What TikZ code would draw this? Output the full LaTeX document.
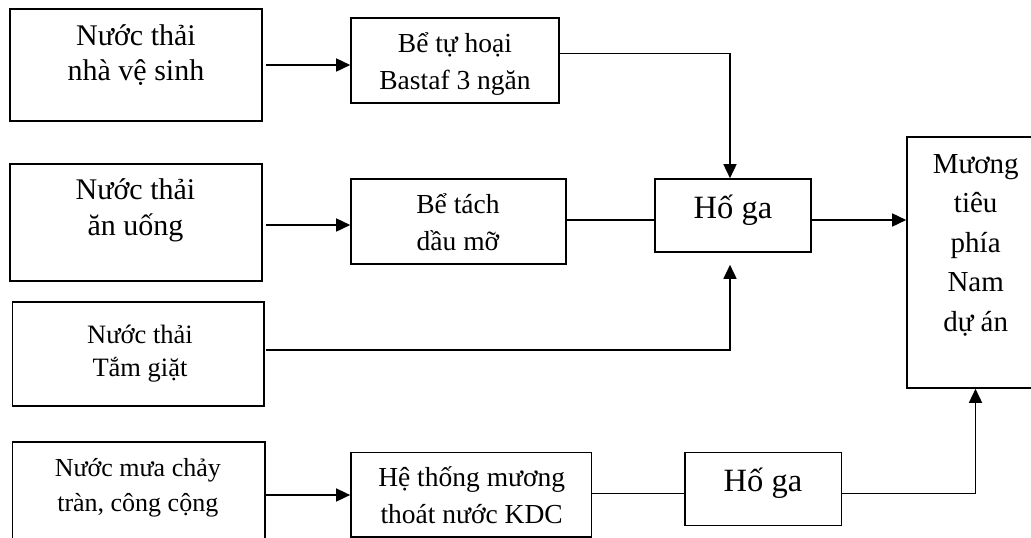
\documentclass[tikz,border=0pt]{standalone}
\usepackage{fontspec}
\setmainfont{Liberation Serif}
\usetikzlibrary{arrows.meta}
\begin{document}
\begin{tikzpicture}[x=1pt,y=-1pt,
  box/.style={draw, line width=1.6pt, rectangle, inner sep=0pt},
  txt/.style={align=center, inner sep=0pt, anchor=base},
  conn/.style={line width=1.6pt},
  arr/.style={conn, -{Triangle[length=14pt,width=13pt]}}]
\useasboundingbox (0,0) rectangle (1031,538);
% boxes
\node[box, minimum width=252pt, minimum height=112pt] (b1) at (136,65) {};
\node[box, minimum width=208pt, minimum height=85pt] (b2) at (455,60.5) {};
\node[box, minimum width=252pt, minimum height=117pt] (b3) at (136,222.5) {};
\node[box, minimum width=215pt, minimum height=85pt] (b4) at (458.5,221.5) {};
\node[box, minimum width=156pt, minimum height=73pt] (h1) at (733,215.5) {};
\node[box, minimum width=137pt, minimum height=251pt] (m) at (975.5,262.5) {};
\node[box, minimum width=251.4pt, minimum height=104pt] (b5) at (138.3,354) {};
\node[box, minimum width=252.3pt, minimum height=118pt] (b6) at (138.8,501) {};
\node[box, minimum width=240.5pt, minimum height=84.4pt] (b7) at (471.2,494.5) {};
\node[box, minimum width=156.3pt, minimum height=73pt] (h2) at (763.2,489) {};
% texts (anchored at the baseline of the last line)
\node[txt, font=\fontsize{30}{35}\selectfont] (t1) at (136,80) {Nước thải\\nhà vệ sinh};
\node[txt, font=\fontsize{27.5}{37}\selectfont] (t2) at (455,89.3) {Bể tự hoại\\Bastaf 3 ngăn};
\node[txt, font=\fontsize{30}{36}\selectfont] (t3) at (135.5,235) {Nước thải\\ăn uống};
\node[txt, font=\fontsize{27.5}{37}\selectfont] (t4) at (458,250) {Bể tách\\dầu mỡ};
\node[txt, font=\fontsize{32.5}{38}\selectfont] (th1) at (733,218) {Hố ga};
\node[txt, font=\fontsize{29}{39.5}\selectfont] (tm) at (975.7,331) {Mương\\tiêu\\phía\\Nam\\dự án};
\node[txt, font=\fontsize{26.5}{33.4}\selectfont] (t5) at (140,376.7) {Nước thải\\Tắm giặt};
\node[txt, font=\fontsize{26}{35}\selectfont] (t6) at (137.8,511.7) {Nước mưa chảy\\tràn, công cộng};
\node[txt, font=\fontsize{27.5}{36.6}\selectfont] (t7) at (471.7,523.3) {Hệ thống mương\\thoát nước KDC};
\node[txt, font=\fontsize{32.5}{38}\selectfont] (th2) at (763,491.7) {Hố ga};
% connectors
\draw[arr] ([xshift=3pt]b1.east) -- (b2.west |- b1.east);
\draw[arr] ([yshift=7.2pt]b2.east) -| ([xshift=-3pt]h1.north);
\draw[arr] ([shift={(3,2.5)}]b3.east) -- ([yshift=-3.5pt]b4.west);
\draw[conn] ([yshift=1.5pt]b4.east) -- ([yshift=-4.5pt]h1.west);
\draw[arr] ([yshift=-4.5pt]h1.east) -- ([yshift=42.5pt]m.west);
\draw[arr] ([shift={(1,-4)}]b5.east) -| ([shift={(-3,12)}]h1.south);
\draw[arr] ([yshift=6pt]b6.east) -- ([yshift=-0.5pt]b7.west);
\draw[conn] ([yshift=1.2pt]b7.east) -- ([yshift=-4.3pt]h2.west);
\draw[arr] ([yshift=-4.3pt]h2.east) -| (m.south);
\end{tikzpicture}
\end{document}
